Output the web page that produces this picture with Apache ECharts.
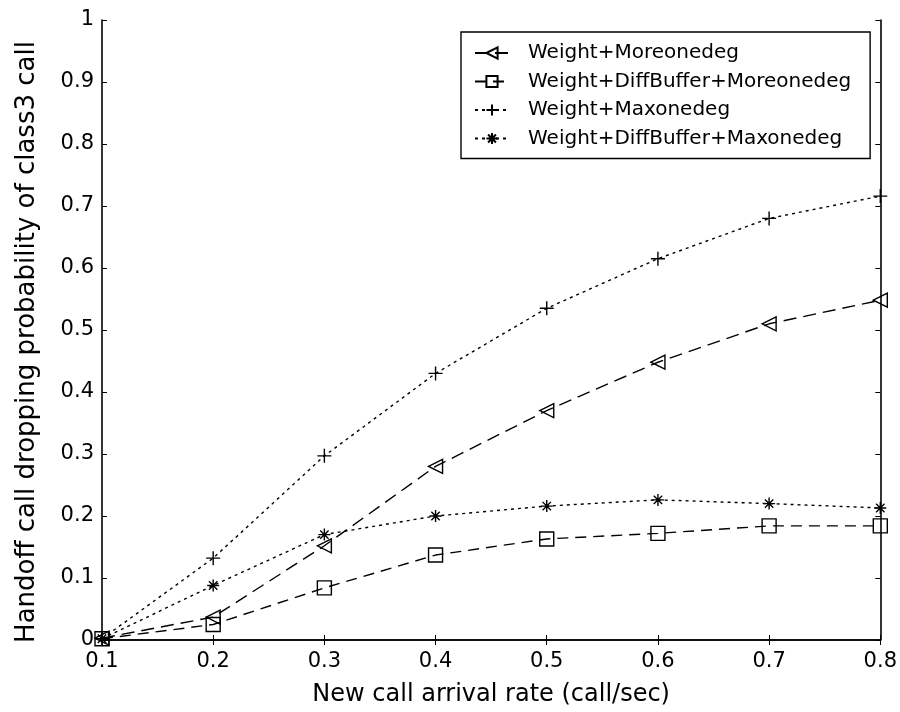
<!DOCTYPE html>
<html>
<head>
<meta charset="utf-8">
<script src="https://cdn.jsdelivr.net/npm/echarts@6/dist/echarts.min.js"></script>
<style>html,body{margin:0;padding:0;background:#fff}#c{width:900px;height:712px}</style>
</head>
<body>
<div id="c"></div>
<script>
const xValues = [0.1, 0.2, 0.3, 0.4, 0.5, 0.6, 0.7, 0.8];
const seriesNames = ['Weight+Moreonedeg', 'Weight+DiffBuffer+Moreonedeg', 'Weight+Maxonedeg', 'Weight+DiffBuffer+Maxonedeg'];
const moreonedeg = [0.003, 0.037, 0.152, 0.280, 0.370, 0.448, 0.510, 0.548];
const diffMoreonedeg = [0.002, 0.025, 0.084, 0.137, 0.163, 0.172, 0.184, 0.184];
const maxonedeg = [0.002, 0.132, 0.297, 0.430, 0.535, 0.615, 0.680, 0.716];
const diffMaxonedeg = [0.002, 0.088, 0.170, 0.200, 0.216, 0.226, 0.220, 0.213];
const xTitle = 'New call arrival rate (call/sec)';
const yTitle = 'Handoff call dropping probability of class3 call';

const FONT = 'DejaVu Sans';
const pair = arr => xValues.map((x, i) => [x, arr[i]]);
const plusPath = 'path://M0,5L10,5M5,0L5,10';
const starPath = 'path://M0,5L10,5M5,0L5,10M1.5,1.5L8.5,8.5M1.5,8.5L8.5,1.5';

function mk(name, data, symbol, size, dash, rotate) {
  return {
    name: name, type: 'line', data: pair(data),
    symbol: symbol, symbolSize: size, symbolRotate: rotate || 0,
    showAllSymbol: true,
    lineStyle: { color: '#000', width: 1.4, type: dash },
    itemStyle: { color: 'rgba(255,255,255,0)', borderColor: '#000', borderWidth: 1.4 },
    emphasis: { disabled: true },
    animation: false, z: 3
  };
}

const chart = echarts.init(document.getElementById('c'), null, { renderer: 'canvas' });
const axisLine = { show: true, lineStyle: { color: '#000', width: 1.6 } };
const tickIn = { show: true, inside: true, length: 5, lineStyle: { color: '#000' } };
chart.setOption({
  backgroundColor: '#fff',
  animation: false,
  grid: { left: 102, right: 17, top: 20, bottom: 70, containLabel: false },
  legend: {
    data: seriesNames,
    orient: 'vertical', left: 461, top: 32,
    padding: [11, 19, 10, 13],
    itemWidth: 34, itemHeight: 14, itemGap: 8.5,
    borderColor: '#000', borderWidth: 1.4, backgroundColor: '#fff',
    textStyle: { fontFamily: FONT, fontSize: 20, color: '#000', padding: [0, 0, 0, 14] },
    selectedMode: false
  },
  xAxis: [{
    type: 'value', min: 0.1, max: 0.8, interval: 0.1, position: 'bottom',
    axisLine: axisLine, axisTick: tickIn, splitLine: { show: false },
    axisLabel: { color: '#000', fontFamily: FONT, fontSize: 21, margin: 11, formatter: v => (+v).toFixed(1) },
    name: xTitle, nameLocation: 'middle', nameGap: 43,
    nameTextStyle: { fontFamily: FONT, fontSize: 24, color: '#000' }
  }, {
    type: 'value', min: 0.1, max: 0.8, interval: 0.1, position: 'top',
    axisLine: axisLine, axisTick: tickIn, splitLine: { show: false }, axisLabel: { show: false }
  }],
  yAxis: [{
    type: 'value', min: 0, max: 1, interval: 0.1, position: 'left',
    axisLine: axisLine, axisTick: tickIn, splitLine: { show: false },
    axisLabel: { color: '#000', fontFamily: FONT, fontSize: 21, margin: 8, formatter: v => (Math.round(v * 10) / 10).toString() },
    name: yTitle, nameLocation: 'middle', nameGap: 62,
    nameTextStyle: { fontFamily: FONT, fontSize: 26, color: '#000', padding: [0, 24, 0, 0] }
  }, {
    type: 'value', min: 0, max: 1, interval: 0.1, position: 'right',
    axisLine: axisLine, axisTick: tickIn, splitLine: { show: false }, axisLabel: { show: false }
  }],
  series: [
    mk(seriesNames[0], moreonedeg, 'triangle', 14, [13, 7], 90),
    mk(seriesNames[1], diffMoreonedeg, 'rect', 14, [11, 7]),
    mk(seriesNames[2], maxonedeg, plusPath, 14, [3, 4]),
    mk(seriesNames[3], diffMaxonedeg, starPath, 12, [3, 4])
  ]
});
</script>
</body>
</html>
